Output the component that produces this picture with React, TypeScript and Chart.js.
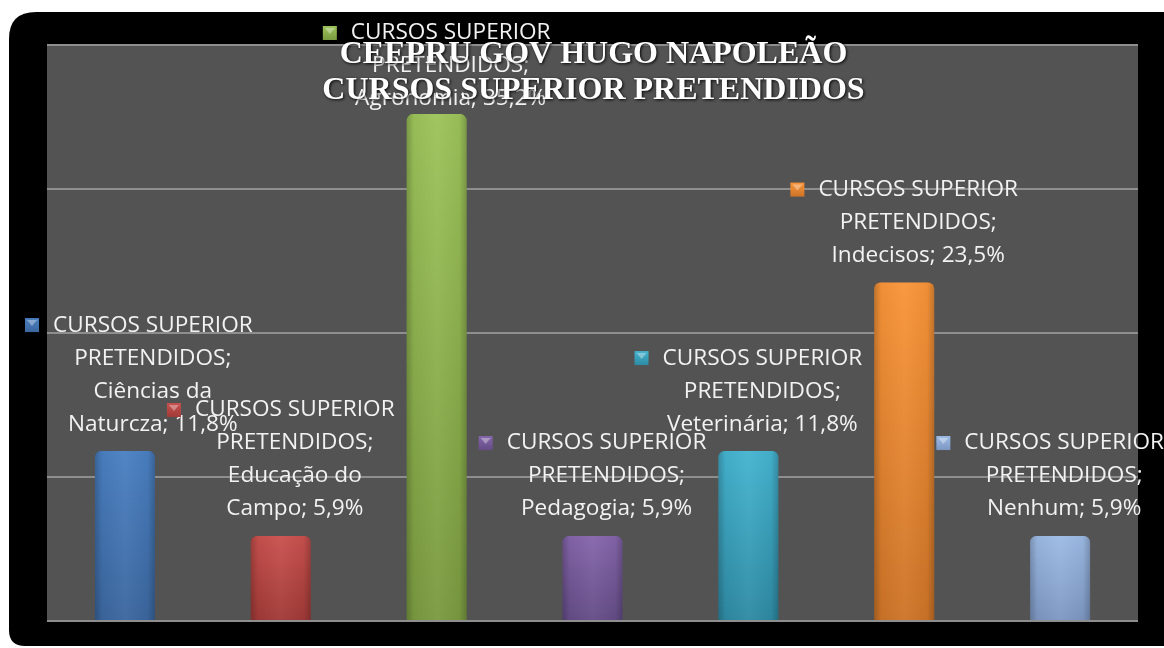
import React, { useEffect, useRef } from "react";
import { Chart, registerables } from "chart.js";

Chart.register(...registerables);

const seriesNameLines = ["CURSOS SUPERIOR", "PRETENDIDOS;"];
const categories: string[][] = [
  ["Ciências da", "Naturcza"],
  ["Educação do", "Campo"],
  ["Agronomia"],
  ["Pedagogia"],
  ["Veterinária"],
  ["Indecisos"],
  ["Nenhum"],
];
const values = [11.8, 5.9, 35.2, 5.9, 11.8, 23.5, 5.9];
const yMax = 40;
const yStep = 10;
const titleLines = ["CEEPRU GOV HUGO NAPOLEÃO", "CURSOS SUPERIOR PRETENDIDOS"];
const barTopColors = ["#4a80c2", "#c9514e", "#9dc35a", "#8566ab", "#45b4d0", "#f99539", "#9dbbe6"];
const barBottomColors = ["#3b669e", "#a03a37", "#7a9a40", "#644c86", "#2e8aa3", "#cd7428", "#7d97c2"];

const fmt = (v: number) => v.toFixed(1).replace(".", ",") + "%";

export default function App() {
  const ref = useRef<HTMLCanvasElement | null>(null);

  useEffect(() => {
    const canvas = ref.current;
    if (!canvas) return;

    const bgPlugin = {
      id: "bg",
      beforeDraw(chart: any) {
        const { ctx, chartArea, width, height } = chart;
        ctx.save();
        ctx.fillStyle = "#ffffff";
        ctx.fillRect(0, 0, width, height);
        const x = 9, y = 12, w = width + 40, h = 634;
        const rTL = 27, rBL = 16;
        ctx.beginPath();
        ctx.moveTo(x + rTL, y);
        ctx.lineTo(x + w, y);
        ctx.lineTo(x + w, y + h);
        ctx.lineTo(x + rBL, y + h);
        ctx.quadraticCurveTo(x, y + h, x, y + h - rBL);
        ctx.lineTo(x, y + rTL);
        ctx.quadraticCurveTo(x, y, x + rTL, y);
        ctx.closePath();
        ctx.fillStyle = "#000000";
        ctx.fill();
        ctx.fillStyle = "#535353";
        ctx.fillRect(chartArea.left, chartArea.top, chartArea.right - chartArea.left, chartArea.bottom - chartArea.top);
        ctx.restore();
      },
    };

    const shadePlugin = {
      id: "shade",
      afterDatasetsDraw(chart: any) {
        const { ctx } = chart;
        const meta = chart.getDatasetMeta(0);
        ctx.save();
        meta.data.forEach((bar: any) => {
          const left = bar.x - bar.width / 2;
          const g = ctx.createLinearGradient(left, 0, left + bar.width, 0);
          g.addColorStop(0, "rgba(0,0,0,0.22)");
          g.addColorStop(0.12, "rgba(0,0,0,0.04)");
          g.addColorStop(0.5, "rgba(255,255,255,0.04)");
          g.addColorStop(0.88, "rgba(0,0,0,0.04)");
          g.addColorStop(1, "rgba(0,0,0,0.22)");
          ctx.fillStyle = g;
          ctx.beginPath();
          const r = 6;
          const top = bar.y, bottom = bar.base, right = left + bar.width;
          ctx.moveTo(left, bottom);
          ctx.lineTo(left, top + r);
          ctx.quadraticCurveTo(left, top, left + r, top);
          ctx.lineTo(right - r, top);
          ctx.quadraticCurveTo(right, top, right, top + r);
          ctx.lineTo(right, bottom);
          ctx.closePath();
          ctx.fill();
        });
        ctx.restore();
      },
    };

    const labelPlugin = {
      id: "labels",
      afterDatasetsDraw(chart: any) {
        const { ctx, width } = chart;
        const meta = chart.getDatasetMeta(0);
        const lh = 33;
        ctx.save();
        ctx.font = "22.6px 'Open Sans'";
        ctx.textBaseline = "middle";
        ctx.textAlign = "center";
        meta.data.forEach((bar: any, i: number) => {
          const cat = categories[i];
          const lines = [
            ...seriesNameLines,
            ...cat.slice(0, -1),
            cat[cat.length - 1] + "; " + fmt(values[i]),
          ];
          const T = Math.max(...lines.map((l) => ctx.measureText(l).width));
          const boxW = 28 + T;
          let left = bar.x - boxW / 2;
          left = Math.max(25, Math.min(left, width - boxW));
          let firstY = bar.y - 27 - (lines.length - 1) * lh;
          firstY = Math.max(33, firstY);
          const mg = ctx.createLinearGradient(0, firstY - 7, 0, firstY + 7);
          mg.addColorStop(0, barTopColors[i]);
          mg.addColorStop(1, barBottomColors[i]);
          ctx.fillStyle = mg;
          ctx.fillRect(left, firstY - 7, 14, 14);
          ctx.fillStyle = "rgba(255,255,255,0.35)";
          ctx.beginPath();
          ctx.moveTo(left + 2, firstY - 5);
          ctx.lineTo(left + 12, firstY - 5);
          ctx.lineTo(left + 7, firstY + 1);
          ctx.closePath();
          ctx.fill();
          ctx.fillStyle = "#f2f2f2";
          lines.forEach((l, k) => {
            ctx.fillText(l, left + 28 + T / 2, firstY + k * lh);
          });
        });
        ctx.restore();
      },
    };

    const titlePlugin = {
      id: "titleText",
      afterDraw(chart: any) {
        const { ctx, chartArea } = chart;
        const cx = (chartArea.left + chartArea.right) / 2;
        ctx.save();
        ctx.font = "bold 32px 'Liberation Serif'";
        ctx.textAlign = "center";
        ctx.textBaseline = "alphabetic";
        ctx.shadowColor = "rgba(0,0,0,0.95)";
        ctx.shadowBlur = 3;
        ctx.shadowOffsetX = 1;
        ctx.shadowOffsetY = 1;
        ctx.fillStyle = "#ffffff";
        titleLines.forEach((t, k) => {
          ctx.fillText(t, cx + 1, 63 + k * 36);
        });
        ctx.restore();
      },
    };

    const chart = new Chart(canvas, {
      type: "bar",
      data: {
        labels: categories.map((c) => c.join(" ")),
        datasets: [
          {
            label: "CURSOS SUPERIOR PRETENDIDOS",
            data: values,
            backgroundColor: (c: any) => {
              const ch = c.chart;
              const ys = ch.scales?.y;
              const i = c.dataIndex;
              if (!ys || i === undefined) return barTopColors[i ?? 0];
              const top = ys.getPixelForValue(values[i]);
              const bottom = ys.getPixelForValue(0);
              if (!isFinite(top) || !isFinite(bottom) || top === bottom) return barTopColors[i];
              const g = ch.ctx.createLinearGradient(0, top, 0, bottom);
              g.addColorStop(0, barTopColors[i]);
              g.addColorStop(1, barBottomColors[i]);
              return g;
            },
            borderWidth: 0,
            borderRadius: { topLeft: 6, topRight: 6, bottomLeft: 0, bottomRight: 0 },
            borderSkipped: "start",
            barPercentage: 0.385,
            categoryPercentage: 1,
          },
        ],
      },
      options: {
        responsive: false,
        animation: false,
        devicePixelRatio: 1,
        layout: { padding: { left: 47, top: 45, right: 26, bottom: 27 } },
        plugins: {
          legend: { display: false },
          tooltip: { enabled: false },
          title: { display: false },
        },
        scales: {
          x: { display: false },
          y: {
            display: true,
            min: 0,
            max: yMax,
            ticks: { display: false, stepSize: yStep },
            grid: { color: "#8e8e8e", lineWidth: 2, drawTicks: false },
            border: { display: false },
          },
        },
      },
      plugins: [bgPlugin, shadePlugin, labelPlugin, titlePlugin],
    });

    return () => chart.destroy();
  }, []);

  return (
    <div style={{ position: "absolute", left: 0, top: 0, width: 1164, height: 648, background: "#fff" }}>
      <canvas ref={ref} width={1164} height={648} style={{ display: "block" }} />
    </div>
  );
}
